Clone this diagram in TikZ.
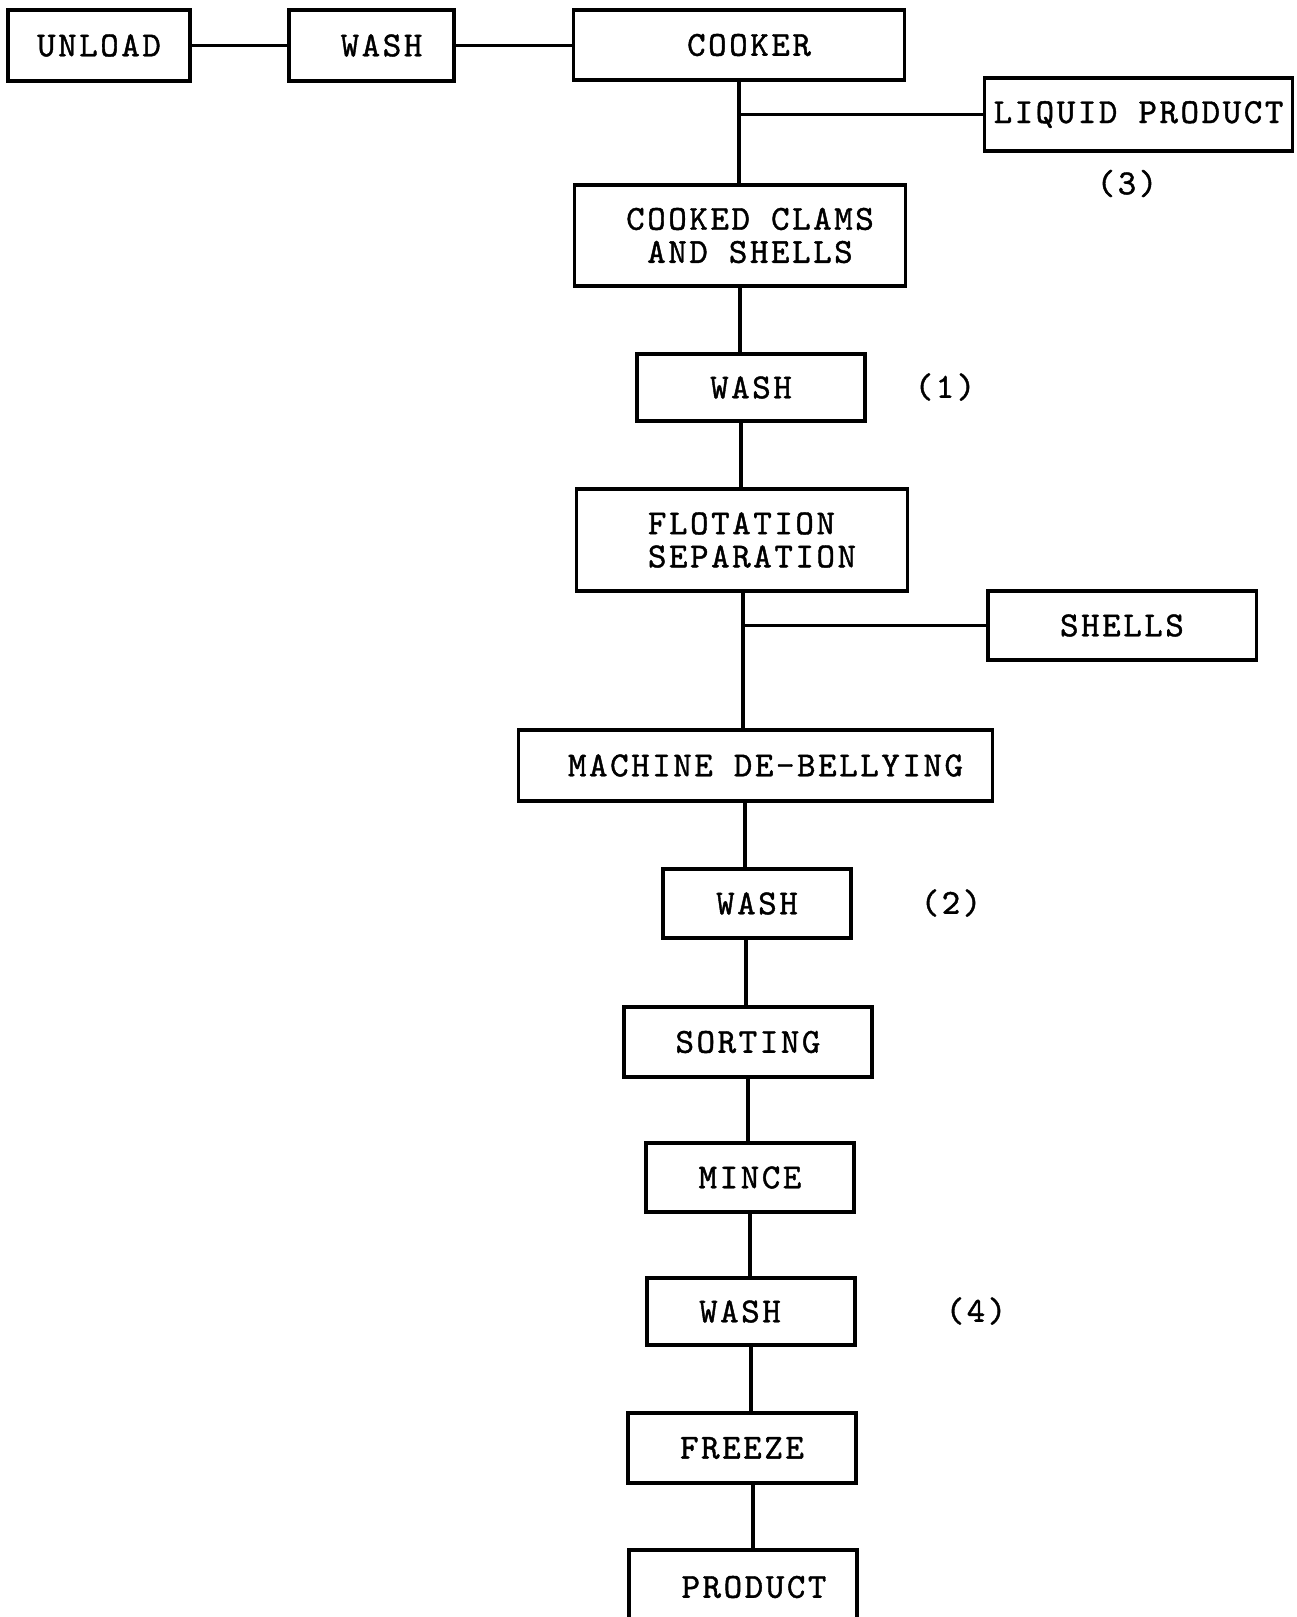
\documentclass[tikz,border=0pt]{standalone}
\usepackage{fontspec}
\setmonofont{Latin Modern Mono}[LetterSpace=7.4,FakeBold=1.2]
\newcommand\nudge[1]{\hspace*{#1}}
\begin{document}
\begin{tikzpicture}[x=0.01cm, y=-0.01cm,
  box/.style n args={2}{draw, line width=0.9pt, minimum width=#1, minimum height=#2,
    inner sep=0pt, align=center},
  link/.style={line width=0.9pt},
  note/.style={inner sep=0pt},
  every node/.style={font=\ttfamily\fontsize{10}{9.4}\selectfont}]
\useasboundingbox (0,0) rectangle (1297,1617);
\clip (0,0) rectangle (1297,1617);

% top row
\node[box={1.82cm}{0.71cm}] (unload) at (99,45.5) {UNLOAD};
\node[box={1.65cm}{0.71cm}] (washa) at (371.5,45.5) {\nudge{0.2cm}WASH};
\node[box={3.30cm}{0.70cm}] (cooker) at (739,45) {\nudge{0.2cm}COOKER};
\node[box={3.07cm}{0.73cm}] (liquid) at (1138.5,114.5) {LIQUID PRODUCT};
\node[note] (n3) at (1127,183.5) {(3)};

% main column
\node[box={3.30cm}{1.01cm}] (clams) at (740,235.5)
  {\nudge{0.2cm}COOKED CLAMS\\\nudge{0.2cm}AND SHELLS};
\node[box={2.28cm}{0.67cm}] (wash1) at (751,387.5) {WASH};
\node[note] (n1) at (945,387) {(1)};
\node[box={3.30cm}{1.02cm}, align=left] (flot) at (742,540)
  {\nudge{0.2cm}FLOTATION\\\nudge{0.2cm}SEPARATION};
\node[box={2.68cm}{0.69cm}] (shells) at (1122,625.5) {SHELLS};
\node[box={4.73cm}{0.71cm}] (machine) at (755.5,765.5) {\nudge{0.2cm}MACHINE DE-BELLYING};
\node[box={1.88cm}{0.69cm}] (wash2) at (757,903.5) {WASH};
\node[note] (n2) at (951,903) {(2)};
\node[box={2.48cm}{0.70cm}] (sorting) at (748,1042) {SORTING};
\node[box={2.08cm}{0.69cm}] (mince) at (750,1177.5) {MINCE};
\node[box={2.08cm}{0.67cm}] (wash4) at (751,1311.5) {\nudge{-0.22cm}WASH};
\node[note] (n4) at (976,1311) {(4)};
\node[box={2.28cm}{0.70cm}] (freeze) at (742,1448) {FREEZE};
\node[box={2.28cm}{0.74cm}] (product) at (743,1587) {\nudge{0.22cm}PRODUCT};

% spine positions of the vertical links
\coordinate (s1) at (739,0);
\coordinate (s2) at (740,0);
\coordinate (s3) at (741,0);
\coordinate (s4) at (743,0);
\coordinate (s5) at (745,0);
\coordinate (s6) at (746,0);
\coordinate (s7) at (748,0);
\coordinate (s8) at (750,0);
\coordinate (s9) at (751,0);
\coordinate (s10) at (753,0);

% links
\draw[link] (unload.east) -- (washa.west);
\draw[link] (washa.east) -- (washa.east -| cooker.west);
\draw[link] (cooker.south -| s1) -- (clams.north -| s1);
\draw[link] (liquid.west) -- (liquid.west -| s1);
\draw[link] (clams.south -| s2) -- (wash1.north -| s2);
\draw[link] (wash1.south -| s3) -- (flot.north -| s3);
\draw[link] (flot.south -| s4) -- (machine.north -| s4);
\draw[link] (shells.west) -- (shells.west -| s4);
\draw[link] (machine.south -| s5) -- (wash2.north -| s5);
\draw[link] (wash2.south -| s6) -- (sorting.north -| s6);
\draw[link] (sorting.south -| s7) -- (mince.north -| s7);
\draw[link] (mince.south -| s8) -- (wash4.north -| s8);
\draw[link] (wash4.south -| s9) -- (freeze.north -| s9);
\draw[link] (freeze.south -| s10) -- (product.north -| s10);
\end{tikzpicture}
\end{document}
